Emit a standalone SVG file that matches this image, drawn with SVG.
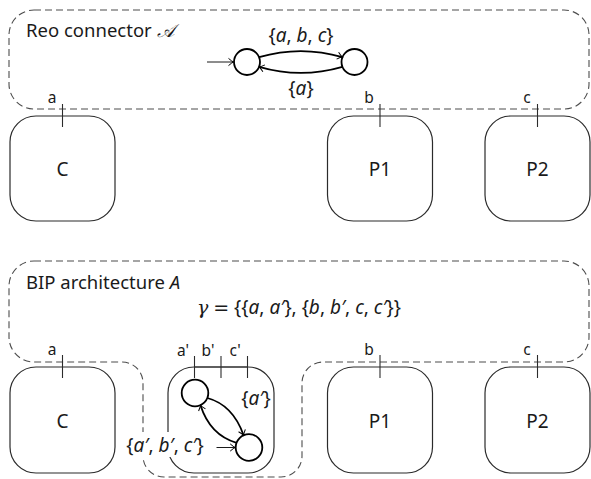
<svg xmlns="http://www.w3.org/2000/svg" width="591" height="479" viewBox="0 0 591 479">
<style>
.dash{fill:none;stroke:#4d4d4d;stroke-width:1.1;stroke-dasharray:7 4}
.box{fill:none;stroke:#2b2b2b;stroke-width:1.2}
.port{stroke:#2b2b2b;stroke-width:1.1}
.st{fill:#fff;stroke:#000;stroke-width:1.8}
.tr{fill:none;stroke:#000;stroke-width:1.8}
.init{fill:none;stroke:#000;stroke-width:0.9}
.t{font-family:"Noto Sans","DejaVu Sans",sans-serif;fill:#1a1a1a}
.title{font-size:18.5px}
.comp{font-size:19px;text-anchor:middle}
.pl{font-size:15.5px;text-anchor:middle}
.m{font-size:19px;text-anchor:middle}
.i{font-style:italic}
.g{font-family:"DejaVu Serif",serif;font-style:italic}
</style>
<defs>
<marker id="ah" markerWidth="10" markerHeight="10" viewBox="-6 -5 7 10" refX="0" refY="0" orient="auto" markerUnits="userSpaceOnUse">
<path d="M-5,-3.6 Q-1.5,-0.6 0,0 Q-1.5,0.6 -5,3.6" fill="none" stroke="#000" stroke-width="1"/>
</marker>
</defs>

<g id="reo-connector">
<rect class="dash" x="9" y="10" width="580" height="99" rx="25" ry="25"/>
<text class="t title" x="26" y="37">Reo connector <tspan font-family="DejaVu Serif, serif" font-style="italic">𝒜</tspan></text>
</g>

<g id="reo-state-1"><circle class="st" cx="247" cy="62" r="13"/></g>
<g id="reo-state-2"><circle class="st" cx="354.5" cy="62" r="13"/></g>

<g id="top-C">
<rect class="box" x="10" y="116" width="105" height="105" rx="26" ry="26"/>
<text class="t comp" x="62.5" y="176">C</text>
<line class="port" x1="62.5" y1="104" x2="62.5" y2="127"/>
<text class="t pl" x="52" y="103">a</text>
</g>
<g id="top-P1">
<rect class="box" x="327.5" y="116" width="105" height="105" rx="26" ry="26"/>
<text class="t comp" x="380" y="176">P1</text>
<line class="port" x1="380" y1="104" x2="380" y2="127"/>
<text class="t pl" x="369" y="103">b</text>
</g>
<g id="top-P2">
<rect class="box" x="485" y="116" width="105" height="105" rx="26" ry="26"/>
<text class="t comp" x="537.5" y="176">P2</text>
<line class="port" x1="537.5" y1="104" x2="537.5" y2="127"/>
<text class="t pl" x="527" y="103">c</text>
</g>

<g id="bip-architecture">
<path class="dash" d="M34,261 H564 A25,25 0 0 1 589,286 V337 A25,25 0 0 1 564,362 H323 A21,21 0 0 0 302,383 V456 A21,21 0 0 1 281,477 H164 A21,21 0 0 1 143,456 V383 A21,21 0 0 0 122,362 H34 A25,25 0 0 1 9,337 V286 A25,25 0 0 1 34,261 Z"/>
<text class="t title" x="26" y="289">BIP architecture <tspan class="i">A</tspan></text>
<text class="t m" x="299" y="314"><tspan class="g">γ</tspan> <tspan font-family="DejaVu Sans, sans-serif">=</tspan> {{<tspan class="i">a</tspan>, <tspan class="i">a′</tspan>}, {<tspan class="i">b</tspan>, <tspan class="i">b′</tspan>, <tspan class="i">c</tspan>, <tspan class="i">c′</tspan>}}</text>
</g>

<g id="bot-C">
<rect class="box" x="10" y="367" width="105" height="106" rx="26" ry="26"/>
<text class="t comp" x="62.5" y="428">C</text>
<line class="port" x1="62.5" y1="355" x2="62.5" y2="378"/>
<text class="t pl" x="52" y="355">a</text>
</g>
<g id="bot-coordinator">
<rect class="box" x="168" y="367" width="106" height="106" rx="26" ry="26"/>
<line class="port" x1="194.5" y1="367" x2="247.5" y2="367"/>
<line class="port" x1="194.5" y1="356" x2="194.5" y2="378"/>
<line class="port" x1="221" y1="356" x2="221" y2="378"/>
<line class="port" x1="247.5" y1="356" x2="247.5" y2="378"/>
<text class="t pl" x="183" y="356">a'</text>
<text class="t pl" x="208" y="356">b'</text>
<text class="t pl" x="235" y="356">c'</text>
</g>
<g id="bip-state-1"><circle class="st" cx="195" cy="393" r="13.3"/></g>
<g id="bip-state-2"><circle class="st" cx="249" cy="447.5" r="13.3"/></g>
<g id="bot-P1">
<rect class="box" x="327.5" y="367" width="105" height="106" rx="26" ry="26"/>
<text class="t comp" x="380" y="428">P1</text>
<line class="port" x1="380" y1="355" x2="380" y2="378"/>
<text class="t pl" x="369" y="355">b</text>
</g>
<g id="bot-P2">
<rect class="box" x="485" y="367" width="105" height="106" rx="26" ry="26"/>
<text class="t comp" x="537.5" y="428">P2</text>
<line class="port" x1="537.5" y1="355" x2="537.5" y2="378"/>
<text class="t pl" x="527" y="355">c</text>
</g>

<g id="connectors">
<line class="init" x1="207" y1="62" x2="233.5" y2="62" marker-end="url(#ah)"/>
<path class="tr" d="M259.1,57.1 Q300.75,45 342.4,57.1" marker-end="url(#ah)"/>
<path class="tr" d="M342.4,66.9 Q300.75,79 259.1,66.9" marker-end="url(#ah)"/>
<text class="t m" x="301" y="42">{<tspan class="i">a</tspan>, <tspan class="i">b</tspan>, <tspan class="i">c</tspan>}</text>
<text class="t m" x="301" y="95">{<tspan class="i">a</tspan>}</text>

<line class="init" x1="216.5" y1="447.5" x2="235.2" y2="447.5" marker-end="url(#ah)"/>
<path class="tr" d="M207.4,398 Q233,405 243.6,435.3" marker-end="url(#ah)"/>
<path class="tr" d="M236.6,442.8 Q210,435 200.5,405.2" marker-end="url(#ah)"/>
<text class="t m" x="256" y="405">{<tspan class="i">a′</tspan>}</text>
<rect x="121" y="432" width="89" height="25" fill="#fff"/>
<text class="t m" x="165" y="452">{<tspan class="i">a′</tspan>, <tspan class="i">b′</tspan>, <tspan class="i">c′</tspan>}</text>
</g>
</svg>
